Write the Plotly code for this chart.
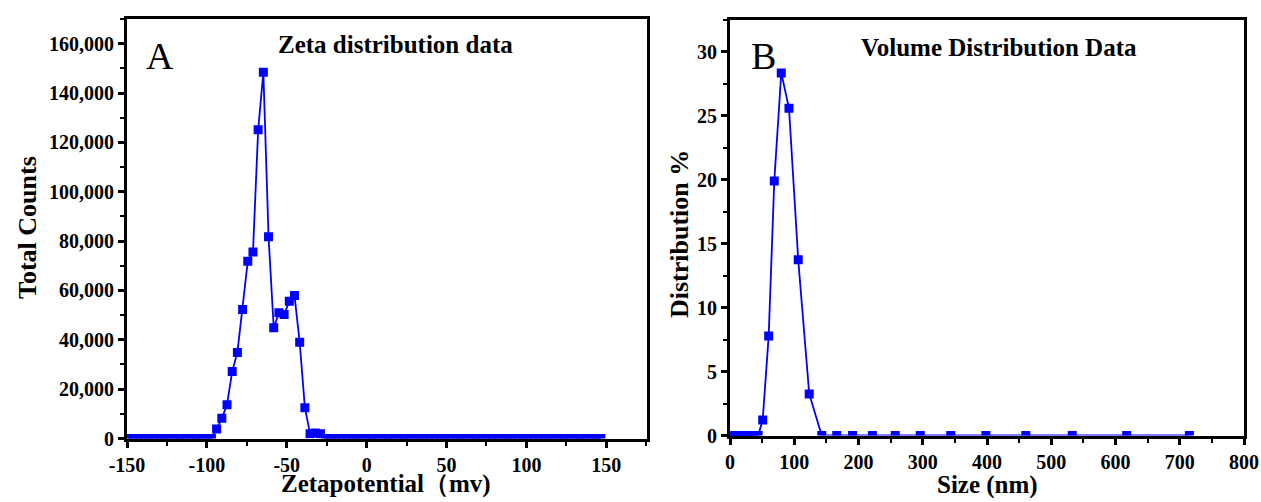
import plotly.graph_objects as go

# ---------------- data ----------------
zeta_mv = [-149.15, -145.90, -142.65, -139.40, -136.15, -132.90, -129.65, -126.40, -123.15, -119.90,
           -116.65, -113.40, -110.15, -106.90, -103.65, -100.40, -97.15, -93.90, -90.65, -87.40,
           -84.15, -80.90, -77.65, -74.40, -71.15, -67.90, -64.65, -61.40, -58.15, -54.90,
           -51.65, -48.40, -45.15, -41.90, -38.65, -35.40, -32.15, -28.90, -25.65, -22.40,
           -19.15, -15.90, -12.65, -9.40, -6.15, -2.90, 0.35, 3.60, 6.85, 10.10,
           13.35, 16.60, 19.85, 23.10, 26.35, 29.60, 32.85, 36.10, 39.35, 42.60,
           45.85, 49.10, 52.35, 55.60, 58.85, 62.10, 65.35, 68.60, 71.85, 75.10,
           78.35, 81.60, 84.85, 88.10, 91.35, 94.60, 97.85, 101.10, 104.35, 107.60,
           110.85, 114.10, 117.35, 120.60, 123.85, 127.10, 130.35, 133.60, 136.85, 140.10,
           143.35, 146.60]
zeta_counts = [0, 0, 0, 0, 0, 0, 0, 0, 0, 0,
               0, 0, 0, 0, 0, 0, 0, 3800, 8200, 13700,
               27200, 34900, 52300, 71800, 75600, 125100, 148400, 81800, 44900, 51000,
               50200, 55600, 57900, 39000, 12500, 1900, 2200, 1900, 0, 0,
               0, 0, 0, 0, 0, 0, 0, 0, 0, 0,
               0, 0, 0, 0, 0, 0, 0, 0, 0, 0,
               0, 0, 0, 0, 0, 0, 0, 0, 0, 0,
               0, 0, 0, 0, 0, 0, 0, 0, 0, 0,
               0, 0, 0, 0, 0, 0, 0, 0, 0, 0,
               0, 0]

size_nm = [0.4, 0.5, 0.6, 0.7, 0.8, 0.9, 1.1, 1.2, 1.4, 1.7,
           1.9, 2.3, 2.6, 3.0, 3.5, 4.1, 4.7, 5.5, 6.4, 7.4,
           8.6, 9.9, 11.5, 13.4, 15.5, 18.0, 20.9, 24.2, 28.1, 32.6,
           37.8, 43.8, 50.9, 60.2, 68.9, 79.8, 91.8, 106.2, 123.3, 142.8,
           166.1, 190.8, 221.6, 257.2, 296.1, 343.6, 398.3, 460.4, 532.7, 617.4,
           715.0]
volume_pct = [0, 0, 0, 0, 0, 0, 0, 0, 0, 0,
              0, 0, 0, 0, 0, 0, 0, 0, 0, 0,
              0, 0, 0, 0, 0, 0, 0, 0, 0, 0,
              0, 0, 1.21, 7.79, 19.9, 28.36, 25.6, 13.74, 3.25, 0,
              0, 0, 0, 0, 0, 0, 0, 0, 0, 0,
              0]

zeta_tickvals = [-150, -100, -50, 0, 50, 100, 150]
zeta_ticktext = ["-150", "-100", "-50", "0", "50", "100", "150"]

titles = ["Zeta distribution data", "Volume Distribution Data"]
panel_letters = ["A", "B"]
x_titles = ["Zetapotential（mv)", "Size (nm)"]
y_titles = ["Total Counts", "Distribution %"]

# ---------------- figure ----------------
W, H = 1261, 502
FONT = "Liberation Serif, Times New Roman, serif"
BLUE = "#0000FF"

fig = go.Figure()
fig.add_trace(go.Scatter(x=zeta_mv, y=zeta_counts, mode="lines+markers",
                         line=dict(color=BLUE, width=1.8),
                         marker=dict(symbol="square", size=9, color=BLUE, line=dict(width=0)),
                         xaxis="x", yaxis="y", showlegend=False))
fig.add_trace(go.Scatter(x=size_nm, y=volume_pct, mode="lines+markers",
                         line=dict(color=BLUE, width=1.8),
                         marker=dict(symbol="square", size=9, color=BLUE, line=dict(width=0)),
                         xaxis="x2", yaxis="y2", showlegend=False))


def px_x(p):
    return p / W


def px_y(p):
    return 1 - p / H


axis_common = dict(showline=True, linecolor="black", linewidth=3, mirror=True,
                   ticks="outside", ticklen=6, tickwidth=3, tickcolor="black",
                   showgrid=False, zeroline=False, automargin=False,
                   tickfont=dict(family=FONT, size=20, color="black", weight="bold"))

minor = dict(ticks="outside", ticklen=4, tickwidth=2, tickcolor="black")

fig.update_layout(
    width=W, height=H, margin=dict(l=0, r=0, t=0, b=0, autoexpand=False),
    paper_bgcolor="white", plot_bgcolor="white",
    xaxis=dict(domain=[px_x(127), px_x(647)], range=[-150, 175.5], anchor="y",
               tickmode="array", tickvals=zeta_tickvals, ticktext=zeta_ticktext,
               minor=dict(dtick=25, tick0=0, **minor),
               **axis_common),
    yaxis=dict(domain=[px_y(438.5), px_y(19)], range=[0, 170000], anchor="x",
               dtick=20000, tickformat=",d",
               minor=dict(dtick=10000, **minor),
               **axis_common),
    xaxis2=dict(domain=[px_x(730), px_x(1244)], range=[0, 800], anchor="y2",
                dtick=100,
                minor=dict(dtick=50, **minor),
                **axis_common),
    yaxis2=dict(domain=[px_y(435.5), px_y(20)], range=[0, 32.5], anchor="x2",
                dtick=5,
                minor=dict(dtick=2.5, **minor),
                **axis_common),
)


def label(text, cx, cy, size, bold=True, angle=0):
    f = dict(family=FONT, size=size, color="black")
    if bold:
        f["weight"] = "bold"
    return dict(text=text, x=px_x(cx), y=px_y(cy), xref="paper", yref="paper",
                xanchor="center", yanchor="middle", showarrow=False,
                textangle=angle, font=f)


ann = [
    label(titles[0], 395, 44, 25),
    label(titles[1], 999, 47, 25),
    label(panel_letters[0], 160, 56, 38, bold=False),
    label(panel_letters[1], 763, 56, 38, bold=False),
    label(x_titles[0], 386, 484, 25),
    label(x_titles[1], 987, 485, 25),
    label(y_titles[0], 27, 228, 26, angle=-90),
    label(y_titles[1], 679, 234, 26, angle=-90),
]
fig.update_layout(annotations=ann)

fig.write_html("out.html")
